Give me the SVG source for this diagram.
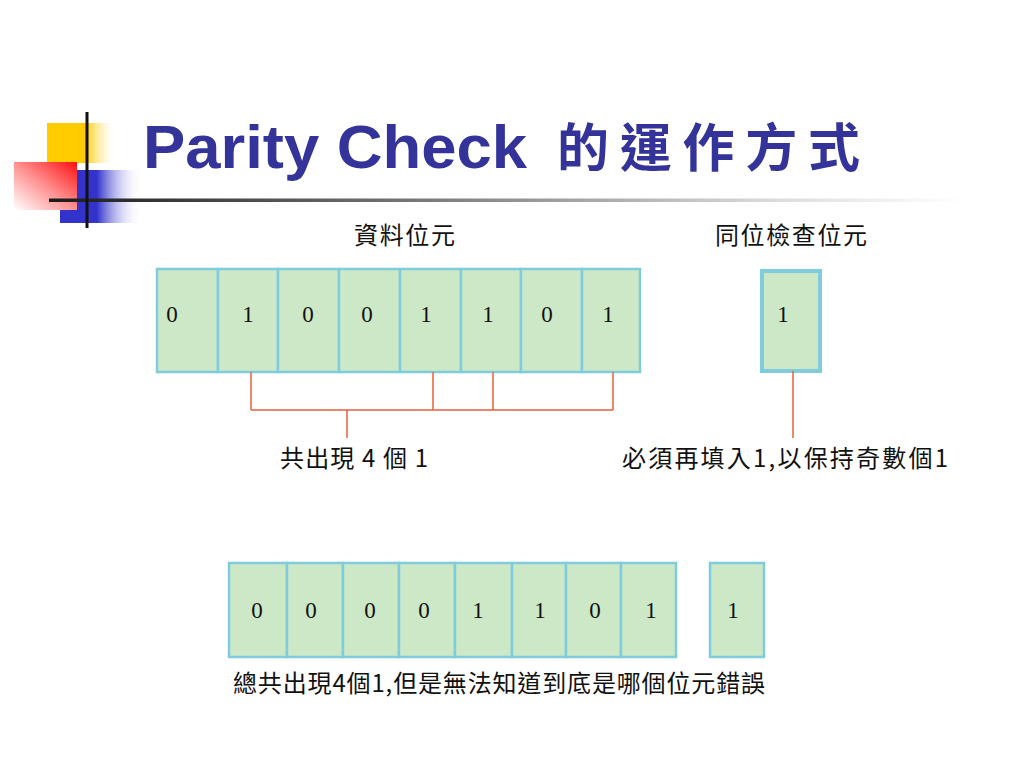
<svg xmlns="http://www.w3.org/2000/svg" width="1024" height="768" viewBox="0 0 1024 768">
<defs>
<linearGradient id="gY" x1="0" y1="0" x2="1" y2="0"><stop offset="0" stop-color="#FFCC00"/><stop offset="0.55" stop-color="#FFCC00"/><stop offset="1" stop-color="#FFFFFF" stop-opacity="0"/></linearGradient>
<linearGradient id="gR" x1="1" y1="0" x2="0" y2="1"><stop offset="0" stop-color="#FF1010"/><stop offset="0.5" stop-color="#FF9090"/><stop offset="1" stop-color="#FFFFFF"/></linearGradient>
<linearGradient id="gB" x1="0" y1="0" x2="1" y2="0"><stop offset="0" stop-color="#3333CC"/><stop offset="0.45" stop-color="#3333CC"/><stop offset="1" stop-color="#FFFFFF" stop-opacity="0"/></linearGradient>
<linearGradient id="gL" x1="0" y1="0" x2="1" y2="0"><stop offset="0" stop-color="#1a1a1a"/><stop offset="0.4" stop-color="#777777"/><stop offset="0.8" stop-color="#dddddd"/><stop offset="1" stop-color="#FFFFFF"/></linearGradient>
<style>
.cell{fill:#CCE8C6;stroke:#7FCCDC;stroke-width:2.5}
.pcell{fill:#CCE8C6;stroke:#7FCCDC;stroke-width:4}
.dig{font-family:"Liberation Serif",serif;font-size:23px;fill:#111;text-anchor:middle}
.lbl{font-family:"Noto Sans CJK TC","Liberation Sans",sans-serif;font-size:24px;fill:#111}
.red{stroke:#E8603C;stroke-width:1.5;fill:none}
</style>
</defs>
<rect width="1024" height="768" fill="#FFFFFF"/>
<g id="decoration">
<rect x="47" y="123" width="70" height="40" fill="url(#gY)"/>
<rect x="60" y="170" width="82" height="53" fill="url(#gB)"/>
<rect x="14" y="162" width="63" height="48" fill="url(#gR)"/>
<rect x="49" y="198.5" width="915" height="3.5" fill="url(#gL)"/>
<rect x="85.5" y="112" width="3" height="116" fill="#111"/>
</g>
<g id="title">
<text x="143" y="168" font-family="'Liberation Sans',Arial,sans-serif" font-weight="bold" font-size="62" fill="#333399" textLength="384" lengthAdjust="spacingAndGlyphs">Parity Check</text>
<text x="557" y="167" font-family="'Noto Sans CJK TC',sans-serif" font-weight="bold" font-size="52" fill="#333399" textLength="303">的運作方式</text>
</g>
<g id="labels">
<text class="lbl" x="354" y="244" textLength="101">資料位元</text>
<text class="lbl" x="715" y="244" textLength="152">同位檢查位元</text>
</g>
<g id="data-bits">
<g id="d0"><rect class="cell" x="157" y="269" width="61" height="103"/><text class="dig" x="172" y="322">0</text></g>
<g id="d1"><rect class="cell" x="218" y="269" width="60" height="103"/><text class="dig" x="248" y="322">1</text></g>
<g id="d2"><rect class="cell" x="278" y="269" width="61" height="103"/><text class="dig" x="308" y="322">0</text></g>
<g id="d3"><rect class="cell" x="339" y="269" width="61" height="103"/><text class="dig" x="367" y="322">0</text></g>
<g id="d4"><rect class="cell" x="400" y="269" width="61" height="103"/><text class="dig" x="426" y="322">1</text></g>
<g id="d5"><rect class="cell" x="461" y="269" width="60" height="103"/><text class="dig" x="488" y="322">1</text></g>
<g id="d6"><rect class="cell" x="521" y="269" width="61" height="103"/><text class="dig" x="547" y="322">0</text></g>
<g id="d7"><rect class="cell" x="582" y="269" width="58" height="103"/><text class="dig" x="608" y="322">1</text></g>
</g>
<g id="parity-bit"><rect class="pcell" x="762" y="271" width="58" height="100"/><text class="dig" x="783" y="322">1</text></g>
<g id="connectors">
<path class="red" d="M251 372V410M433 372V410M493 372V410M613 372V410M251 410H613M347 410V438"/>
<path class="red" d="M793 371V438"/>
</g>
<g id="note-count"><text class="lbl" x="280" y="467" textLength="148">共出現 4 個 1</text></g>
<g id="note-odd"><text class="lbl" x="622" y="467" textLength="326">必須再填入1,以保持奇數個1</text></g>
<g id="received-bits">
<g id="r0"><rect class="cell" x="229" y="563" width="58" height="94"/><text class="dig" x="257" y="618">0</text></g>
<g id="r1"><rect class="cell" x="287" y="563" width="56" height="94"/><text class="dig" x="311" y="618">0</text></g>
<g id="r2"><rect class="cell" x="343" y="563" width="56" height="94"/><text class="dig" x="370" y="618">0</text></g>
<g id="r3"><rect class="cell" x="399" y="563" width="56" height="94"/><text class="dig" x="424" y="618">0</text></g>
<g id="r4"><rect class="cell" x="455" y="563" width="57" height="94"/><text class="dig" x="478" y="618">1</text></g>
<g id="r5"><rect class="cell" x="512" y="563" width="54" height="94"/><text class="dig" x="540" y="618">1</text></g>
<g id="r6"><rect class="cell" x="566" y="563" width="55" height="94"/><text class="dig" x="595" y="618">0</text></g>
<g id="r7"><rect class="cell" x="621" y="563" width="55" height="94"/><text class="dig" x="651" y="618">1</text></g>
</g>
<g id="received-parity"><rect class="cell" x="710" y="563" width="54" height="94"/><text class="dig" x="733" y="618">1</text></g>
<g id="note-error"><text class="lbl" x="233" y="692" textLength="532">總共出現4個1,但是無法知道到底是哪個位元錯誤</text></g>
</svg>
